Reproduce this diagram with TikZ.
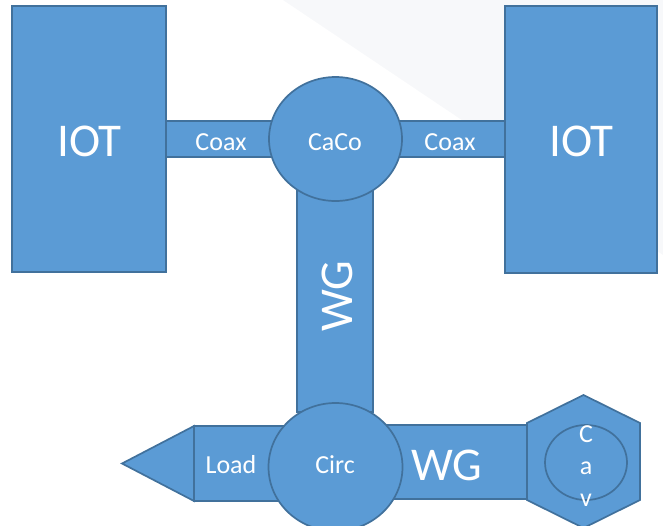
\documentclass[tikz,border=0pt]{standalone}
\usepackage{fontspec}
\setmainfont{Carlito}
\usetikzlibrary{calc,shapes.geometric}
\definecolor{blk}{HTML}{5B9BD5}
\definecolor{edge}{HTML}{41719C}
\definecolor{faint}{HTML}{F7F8FA}
\begin{document}
\begin{tikzpicture}[x=1pt,y=-1pt,
  shp/.style={fill=blk,draw=edge,line width=1.7pt,inner sep=0pt,outer sep=0pt},
  boxshape/.style={shp,rectangle,minimum width=#1},
  lbl/.style={text=white,inner sep=0pt},
  big/.style={lbl,font=\fontsize{47}{50}\selectfont},
  small/.style={lbl,font=\fontsize{26}{32}\selectfont}]
\useasboundingbox (0,0) rectangle (663,525);
\fill[faint] (283,0) -- (663,0) -- (663,255) -- cycle;
% connectors (bars)
\node[boxshape=109pt,minimum height=36pt] (coaxL) at (220.5,139) {};
\node[boxshape=109pt,minimum height=36pt] (coaxR) at (450.5,139) {};
\node[boxshape=76pt,minimum height=222pt] (wgV) at (335,301) {};
\node[boxshape=96pt,minimum height=75pt] (load) at (242,463.5) {};
\draw[shp] (load.north west) -- (load.south west) -- ($(load.west)+(-72,0)$) -- cycle;
\node[boxshape=160pt,minimum height=74pt] (wgH) at (447,462) {};
% hexagon cavity
\coordinate (hx) at (583.5,461.5);
\draw[shp] ($(hx)+(0,-66.5)$) -- ($(hx)+(56.5,-38.5)$) -- ($(hx)+(56.5,38.5)$) -- ($(hx)+(0,66.5)$) -- ($(hx)+(-56.5,38.5)$) -- ($(hx)+(-56.5,-38.5)$) -- cycle;
\node[shp,ellipse,minimum width=82pt,minimum height=75pt] (cavE) at (586,462.5) {};
% IOTs
\node[boxshape=154pt,minimum height=266pt] (iotL) at (89,139) {};
\node[boxshape=152pt,minimum height=267pt] (iotR) at (581,139.5) {};
% circles
\node[shp,ellipse,minimum width=133pt,minimum height=124pt] (caco) at (335.5,139) {};
\node[shp,ellipse,minimum width=134pt,minimum height=128pt] (circ) at (335.5,467) {};
% texts
\node[big] (iotLt) at (89.5,141) {IOT};
\node[big] (iotRt) at (581.5,141) {IOT};
\node[small] (coaxLt) at (221,142) {Coax};
\node[small] (coaxRt) at (450,142) {Coax};
\node[small] (cacot) at (335,142) {CaCo};
\node[big,rotate=90] (wgVt) at (337,296) {WG};
\node[small] (loadt) at (231,465) {Load};
\node[small] (circt) at (335,465) {Circ};
\node[big] (wgHt) at (447,465) {WG};
\node[small,align=center] (cavT) at (586,466) {C\\a\\v};
\end{tikzpicture}
\end{document}
